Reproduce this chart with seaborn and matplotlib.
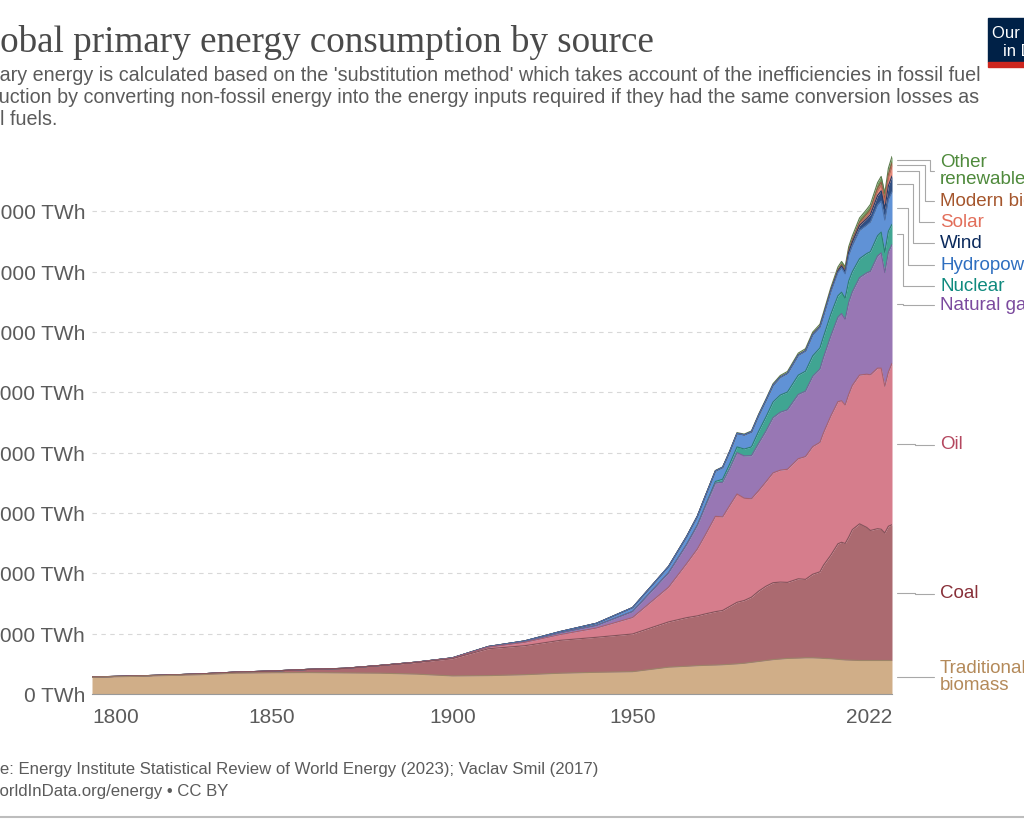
import matplotlib
matplotlib.use("Agg")
import matplotlib.pyplot as plt
import seaborn as sns
import pandas as pd
import numpy as np
from matplotlib.patches import Rectangle
from matplotlib.lines import Line2D
from matplotlib.transforms import blended_transform_factory

# data (TWh, substitution method)
years = [1800, 1810, 1820, 1830, 1840, 1850, 1860, 1870, 1880, 1890,
         1900, 1910, 1920, 1930, 1940, 1950, 1960, 1965, 1968, 1970,
         1973, 1975, 1977, 1979, 1981, 1983, 1985, 1987, 1989, 1991,
         1993, 1996, 1998, 2000, 2002, 2003, 2005, 2007, 2008, 2009,
         2010, 2011, 2013, 2015, 2016, 2018, 2019, 2020, 2021, 2022]

trad_biomass = [5556, 5800, 6100, 6400, 6900, 7050, 7100, 7000, 6900, 6600,
                6000, 6100, 6400, 6900, 7200, 7400, 8900, 9200, 9400, 9500,
                9600, 9700, 9850, 10000, 10200, 10500, 10800, 11100, 11400, 11600,
                11800, 11900, 12000, 12000, 11900, 11800, 11700, 11500, 11400, 11300,
                11250, 11200, 11111, 11111, 11111, 11111, 11111, 11111, 11111, 11111]
coal = [97, 128, 153, 264, 356, 569, 1061, 1500, 2540, 3850,
        5700, 8900, 9600, 10900, 11600, 12500, 15000, 16100, 16500, 17000,
        17700, 18000, 19200, 20400, 20800, 21600, 23300, 24600, 25500, 25500,
        25200, 26300, 26000, 27700, 28600, 30900, 34300, 38300, 38900, 38600,
        40800, 43300, 45300, 44100, 43100, 43700, 43500, 42300, 44500, 45000]
oil = [0, 0, 0, 0, 0, 0, 0, 6, 33, 86,
       181, 511, 1097, 1910, 3072, 5444, 11500, 17900, 22200, 25800,
       31600, 31000, 33500, 35900, 33900, 32600, 33300, 34600, 36400, 37100,
       37500, 39800, 40700, 42300, 42900, 43900, 46100, 47100, 46900, 45900,
       47300, 47800, 49300, 50800, 51600, 53200, 53400, 48600, 51100, 53500]
gas = [0, 0, 0, 0, 0, 0, 0, 0, 0, 25,
       64, 142, 233, 603, 875, 2000, 4800, 6300, 7800, 9300,
       11000, 11500, 12300, 13700, 14000, 14300, 15700, 16800, 18300, 19200,
       19700, 21300, 21700, 23300, 24300, 25000, 26500, 28000, 28900, 28400,
       30500, 31000, 32300, 33600, 34300, 37200, 38200, 37700, 39800, 39400]
nuclear = [0, 0, 0, 0, 0, 0, 0, 0, 0, 0,
           0, 0, 0, 0, 0, 0, 0, 70, 140, 220,
           550, 1000, 1500, 1900, 2300, 2900, 4000, 4700, 5200, 5700,
           5900, 6400, 6600, 6800, 7000, 6900, 7200, 7100, 7100, 7000,
           7100, 6700, 6300, 6400, 6500, 6700, 6900, 6700, 6900, 6700]
hydro = [0, 0, 0, 0, 0, 0, 0, 0, 0, 0,
         40, 100, 250, 400, 700, 1300, 2100, 2600, 2900, 3200,
         3500, 3900, 4100, 4500, 4700, 5000, 5300, 5500, 5600, 5900,
         6200, 6600, 6700, 7000, 6900, 6900, 7500, 7800, 8100, 8100,
         8600, 8700, 9400, 9500, 9900, 10300, 10300, 10700, 10600, 10800]
wind = [0, 0, 0, 0, 0, 0, 0, 0, 0, 0,
        0, 0, 0, 0, 0, 0, 0, 0, 0, 0,
        0, 0, 0, 0, 0, 0, 0, 0, 0, 0,
        0, 30, 50, 85, 140, 170, 270, 460, 580, 740,
        920, 1150, 1640, 2080, 2400, 3050, 3380, 3800, 4500, 5200]
solar = [0, 0, 0, 0, 0, 0, 0, 0, 0, 0,
         0, 0, 0, 0, 0, 0, 0, 0, 0, 0,
         0, 0, 0, 0, 0, 0, 0, 0, 0, 0,
         0, 0, 0, 0, 0, 0, 5, 10, 30, 50,
         85, 170, 360, 690, 880, 1460, 1800, 2100, 2600, 3200]
biofuels = [0, 0, 0, 0, 0, 0, 0, 0, 0, 0,
            0, 0, 0, 0, 0, 0, 0, 0, 0, 0,
            0, 0, 0, 0, 0, 0, 0, 0, 0, 70,
            70, 80, 80, 100, 120, 150, 220, 380, 500, 560,
            640, 650, 720, 850, 870, 1000, 1080, 1000, 1080, 1200]
other_renew = [0, 0, 0, 0, 0, 0, 0, 0, 0, 0,
               0, 0, 0, 0, 0, 0, 0, 100, 110, 130,
               160, 180, 200, 230, 260, 300, 370, 420, 470, 510,
               550, 600, 630, 670, 720, 760, 810, 900, 960, 1020,
               1120, 1200, 1380, 1540, 1620, 1800, 1900, 2000, 2100, 2100]

sources = ["Traditional biomass", "Coal", "Oil", "Natural gas", "Nuclear",
           "Hydropower", "Wind", "Solar", "Modern biofuels", "Other renewables"]
label_text = ["Traditional\nbiomass", "Coal", "Oil", "Natural gas", "Nuclear",
              "Hydropower", "Wind", "Solar", "Modern biofuels", "Other\nrenewables"]
fill_colors = ["#d0ae88", "#ab6a70", "#d67d8c", "#9877b4", "#40a592",
               "#6092d6", "#2f4e82", "#e8897a", "#b77452", "#6f9a5c"]
line_colors = ["#9c8468", "#84525a", "#a8606e", "#76609a", "#2a8070",
               "#4a72ac", "#223a66", "#c06a5c", "#8e5a42", "#5a7a4c"]
text_colors = ["#b48a5a", "#883039", "#b4475f", "#7b4a9e", "#0f8a7e",
               "#2f6fc0", "#0b2a5c", "#e26e5a", "#a5562d", "#4f8a3c"]
# label anchor heights (TWh) and elbow x (px)
label_y = [5640, 33200, 82600, 128900, 135100, 142100, 149400, 156300, 163300, 173300]
elbow_px = [915, 915, 915, 903, 903, 908, 913, 919, 925, 930]

series = [trad_biomass, coal, oil, gas, nuclear, hydro, wind, solar, biofuels, other_renew]

W, H = 1024, 819
sns.set_theme(style="white")
plt.rcParams["font.family"] = ["Liberation Sans", "DejaVu Sans"]

fig = plt.figure(figsize=(W / 100, H / 100), dpi=100)
ax = fig.add_axes([92 / W, 125 / H, 800 / W, 543 / H])

wide = pd.DataFrame(dict(zip(sources, series)), index=years)
cum = wide.cumsum(axis=1)

ax.stackplot(years, *[wide[s] for s in sources], colors=fill_colors, linewidth=0)

# boundary lines, upper series first so lower boundaries stay visible where they coincide
long = cum.reset_index(names="year").melt(id_vars="year", var_name="source", value_name="top")
sns.lineplot(data=long, x="year", y="top", hue="source", hue_order=sources[::-1],
             palette=line_colors[::-1], estimator=None, sort=False, lw=0.8,
             legend=False, ax=ax)

ax.set_xlim(1800, 2022)
ax.set_ylim(0, 180000)
yt = list(range(0, 160001, 20000))
ax.set_yticks(yt)
ax.set_yticklabels([f"{v:,} TWh" for v in yt])
ax.set_xticks([1800, 1850, 1900, 1950, 2022])
ax.set_xticklabels(["1800", "1850", "1900", "1950", "2022"])
xl = ax.get_xticklabels()
xl[0].set_ha("left")
xl[-1].set_ha("right")
ax.set_xlabel("")
ax.set_ylabel("")
ax.tick_params(axis="y", length=0, pad=5, labelsize=15, labelcolor="#5b5b5b")
ax.tick_params(axis="x", length=4, width=0.8, color="#999999", pad=6,
               labelsize=15, labelcolor="#5b5b5b", direction="out")
ax.yaxis.grid(True, ls=(0, (4, 4)), color="#d8d8d8", lw=0.8)
ax.xaxis.grid(False)
for s in ["left", "top", "right"]:
    ax.spines[s].set_visible(False)
ax.spines["bottom"].set_color("#999999")
ax.spines["bottom"].set_linewidth(0.8)
ax.set_axisbelow(True)

# right-hand labels with connectors
trans = blended_transform_factory(fig.transFigure, ax.transData)
last = cum.loc[2022]
for i, s in enumerate(sources):
    top = last[s]
    bottom = top - wide.loc[2022, s]
    mid = (top + bottom) / 2
    xe = elbow_px[i] / W
    ln = Line2D([897 / W, xe, xe, 934 / W], [mid, mid, label_y[i], label_y[i]],
                transform=trans, color="#a8a8a8", lw=0.8)
    fig.add_artist(ln)
    fig.text(940 / W, label_y[i], label_text[i], transform=trans, ha="left",
             va="center", fontsize=13.5, color=text_colors[i], linespacing=1.0)

# title, subtitle, footer (left edge sits outside the canvas as in the reference)
fig.text(-37 / W, 1 - 52 / H, "Global primary energy consumption by source",
         family=["Liberation Serif", "DejaVu Serif"], fontsize=26.7,
         color="#4a4a4a", ha="left", va="baseline")
sub = ["Primary energy is calculated based on the 'substitution method' which takes account of the inefficiencies in fossil fuel",
       "production by converting non-fossil energy into the energy inputs required if they had the same conversion losses as",
       "fossil fuels."]
for k, line in enumerate(sub):
    fig.text(-41 / W, 1 - (81 + 22 * k) / H, line, fontsize=14.2, color="#5b5b5b",
             ha="left", va="baseline")
fig.text(-44 / W, 1 - 774 / H,
         "Source: Energy Institute Statistical Review of World Energy (2023); Vaclav Smil (2017)",
         fontsize=12.1, color="#5b5b5b", ha="left", va="baseline")
fig.text(-44 / W, 1 - 796 / H, "OurWorldInData.org/energy \u2022 CC BY",
         fontsize=12.1, color="#5b5b5b", ha="left", va="baseline")

fig.add_artist(Line2D([0, 1], [1 - 817 / H, 1 - 817 / H], transform=fig.transFigure,
                      color="#bdbdbd", lw=1.5))

# logo box
fig.patches.append(Rectangle((988 / W, 1 - 62 / H), 60 / W, 44 / H,
                             transform=fig.transFigure, color="#002147", zorder=5))
fig.patches.append(Rectangle((988 / W, 1 - 67 / H), 60 / W, 5 / H,
                             transform=fig.transFigure, color="#ce261e", zorder=5))
fig.text(992 / W, 1 - 38 / H, "Our World", fontsize=12, color="white", zorder=6)
fig.text(1003 / W, 1 - 56 / H, "in Data", fontsize=12, color="white", zorder=6)

fig.savefig("out.png", dpi=100)
